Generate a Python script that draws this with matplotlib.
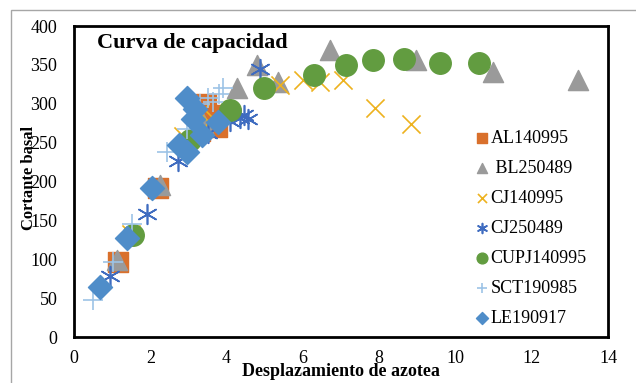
import matplotlib
matplotlib.use('Agg')
import matplotlib.pyplot as plt
from matplotlib.patches import Rectangle

plt.rcParams['font.family'] = ['Liberation Serif', 'DejaVu Serif']

# pushover results per building (roof displacement vs base shear)
al_x = [1.15, 2.2, 3.3, 3.45, 3.6, 3.75]
al_y = [97, 192, 265, 300, 285, 270]

bl_x = [1.13, 2.26, 3.39, 4.28, 4.81, 5.36, 6.72, 8.96, 10.98, 13.21]
bl_y = [99, 195, 275, 320, 350, 328, 369, 356, 341, 330]

cj1_x = [1.5, 2.85, 3.3, 3.65, 5.4, 6.0, 6.45, 7.05, 7.9, 8.83]
cj1_y = [132, 258, 288, 282, 324, 330, 328, 330, 295, 274]

cj2_x = [0.95, 1.92, 2.73, 3.5, 4.1, 4.35, 4.45, 4.55, 4.88]
cj2_y = [78, 158, 226, 262, 278, 282, 286, 280, 345]

cupj_x = [1.55, 3.05, 4.1, 4.99, 6.3, 7.12, 7.85, 8.64, 9.59, 10.61]
cupj_y = [131, 253, 292, 320, 337, 350, 356, 357, 352, 352]

sct_x = [0.5, 1.02, 1.52, 2.45, 2.97, 3.3, 3.5, 3.65, 3.8, 3.9]
sct_y = [48, 96, 145, 238, 268, 300, 307, 302, 312, 320]

le_x = [0.68, 1.39, 2.05, 2.75, 2.95, 3.36, 3.13, 3.18, 2.95, 3.78]
le_y = [64, 127, 192, 247, 238, 260, 280, 293, 308, 277]

fig = plt.figure(figsize=(6.36, 3.83), dpi=100)
ax = fig.add_axes([0.1164, 0.120, 0.8396, 0.812])

# outer frame of the chart area (only top/left edges fall inside the image)
fig.patches.append(Rectangle((11 / 636, -0.5), 2, 1.5 - 10 / 383, transform=fig.transFigure,
                             fill=False, edgecolor='#a6a6a6', linewidth=1.0))

ax.scatter(al_x, al_y, marker='s', s=190, color='#D9702C', label='AL140995', zorder=2)
ax.scatter(bl_x, bl_y, marker='^', s=210, color='#9A9A9A', label=' BL250489', zorder=3)
ax.scatter(cj1_x, cj1_y, marker='x', s=170, color='#EDB21E', linewidths=1.2, label='CJ140995', zorder=3)
ax.scatter(cj2_x, cj2_y, marker=(6, 2, 0), s=200, color='#3F6CC0', linewidths=1.2, label='CJ250489', zorder=3)
ax.scatter(cupj_x, cupj_y, marker='o', s=240, color='#629C40', label='CUPJ140995', zorder=4)
ax.scatter(sct_x, sct_y, marker='+', s=200, color='#9DC3E6', linewidths=1.2, label='SCT190985', zorder=4)
ax.scatter(le_x, le_y, marker='D', s=150, color='#4F8DC9', label='LE190917', zorder=5)

ax.set_xlim(0, 14)
ax.set_ylim(0, 400)
ax.set_xticks(range(0, 15, 2))
ax.set_yticks(range(0, 401, 50))
ax.tick_params(length=0, labelsize=13)
ax.tick_params(axis='y', pad=12)
ax.tick_params(axis='x', pad=9)
for sp in ax.spines.values():
    sp.set_linewidth(2.0)
    sp.set_color('black')

ax.text(0.043, 0.945, 'Curva de capacidad', transform=ax.transAxes,
        fontsize=16, fontweight='bold', va='center', ha='left')

ax.set_xlabel('Desplazamiento de azotea', fontsize=13, fontweight='bold')
ax.xaxis.set_label_coords(0.5, -0.083)
ax.set_ylabel('Cortante basal', fontsize=12, fontweight='bold')
ax.yaxis.set_label_coords(-0.069, 0.511)

leg = ax.legend(loc='upper left', bbox_to_anchor=(0.733, 0.69), frameon=False,
                fontsize=13, markerscale=0.5, handletextpad=0.0, handlelength=1.0,
                labelspacing=0.72, borderaxespad=0)

fig.savefig('out.png', dpi=100)
